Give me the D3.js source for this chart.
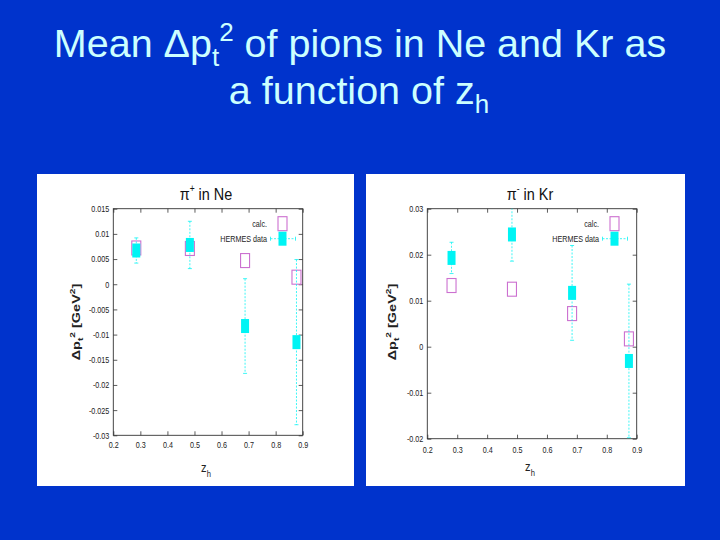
<!DOCTYPE html>
<html><head><meta charset="utf-8">
<script src="https://cdn.jsdelivr.net/npm/d3@7"></script>
<style>body{margin:0;background:#0033cc;} svg{display:block;}</style>
</head><body>
<svg id="c" width="720" height="540"></svg>
<script>
// ---- data ----
const xTicks = [0.2, 0.3, 0.4, 0.5, 0.6, 0.7, 0.8, 0.9];
const yTicksNe = [-0.03, -0.025, -0.02, -0.015, -0.01, -0.005, 0, 0.005, 0.01, 0.015];
const yTicksKr = [-0.02, -0.01, 0, 0.01, 0.02, 0.03];
const zNe = [0.285, 0.483, 0.687, 0.877];
const hermesNe = [0.0067, 0.0078, -0.0083, -0.0115];
const hermesNeErr = [0.0025, 0.0047, 0.0094, 0.0164];
const calcNe = [0.0072, 0.0071, 0.0047, 0.0014];
const zKr = [0.281, 0.483, 0.684, 0.874];
const hermesKr = [0.0193, 0.0244, 0.0117, -0.0031];
const hermesKrErr = [0.0034, 0.0058, 0.0103, 0.0167];
const calcKr = [0.0133, 0.0125, 0.0072, 0.0017];
const legendLabels = ["calc.", "HERMES data"];

const svg = d3.select("#c");
const CYAN = "#00f4f4", PINK = "#cc70d0", TITLE = "#ccffff";

svg.append("rect").attr("width", 720).attr("height", 540).attr("fill", "#0033cc");

// main title
const t1 = svg.append("text").attr("x", 360).attr("y", 57).attr("text-anchor", "middle")
  .attr("font-family", "Liberation Sans, Arial, sans-serif").attr("font-size", 39.5).attr("fill", TITLE);
t1.append("tspan").text("Mean Δp");
t1.append("tspan").attr("font-size", 26).attr("dy", 9).text("t");
t1.append("tspan").attr("font-size", 26).attr("dy", -25).text("2");
t1.append("tspan").attr("dy", 16).text(" of pions in Ne and Kr as");
const t2 = svg.append("text").attr("x", 359).attr("y", 104).attr("text-anchor", "middle")
  .attr("font-family", "Liberation Sans, Arial, sans-serif").attr("font-size", 39.5).attr("fill", TITLE);
t2.append("tspan").text("a function of z");
t2.append("tspan").attr("font-size", 26).attr("dy", 9).text("h");

function panel(cfg) {
  const g = svg.append("g");
  g.append("rect").attr("x", cfg.px).attr("y", 174).attr("width", cfg.pw).attr("height", 312).attr("fill", "#fff");
  const x = d3.scaleLinear().domain([0.2, 0.9]).range([cfg.x0, cfg.x1]);
  const y = d3.scaleLinear().domain(cfg.ydom).range([cfg.y1, cfg.y0]);
  const fmt = d => String(+d.toFixed(4));
  const font = "Liberation Sans, Arial, sans-serif";

  const styleAxis = (a) => {
    a.select(".domain").remove();
    a.selectAll(".tick line").attr("stroke", "#333").attr("stroke-width", 0.8);
    a.selectAll(".tick text").attr("font-family", font).attr("font-size", 9).attr("fill", "#222");
  };
  // left
  const ga = g.append("g").attr("transform", `translate(${cfg.x0},0)`)
    .call(d3.axisLeft(y).tickValues(cfg.yticks).tickFormat(fmt).tickSizeInner(-4).tickSizeOuter(0).tickPadding(5));
  styleAxis(ga);
  ga.selectAll(".tick text").attr("transform", "scale(0.8,1)");
  // right mirror
  const gr = g.append("g").attr("transform", `translate(${cfg.x1},0)`)
    .call(d3.axisRight(y).tickValues(cfg.yticks).tickFormat("").tickSizeInner(-4).tickSizeOuter(0));
  styleAxis(gr);
  // bottom
  const gb = g.append("g").attr("transform", `translate(0,${cfg.y1})`)
    .call(d3.axisBottom(x).tickValues(xTicks).tickFormat(d => d.toFixed(1)).tickSizeInner(-4).tickSizeOuter(0).tickPadding(cfg.xpad));
  styleAxis(gb);
  gb.selectAll(".tick text").attr("transform", "scale(0.8,1)");
  // top mirror
  const gt = g.append("g").attr("transform", `translate(0,${cfg.y0})`)
    .call(d3.axisTop(x).tickValues(xTicks).tickFormat("").tickSizeInner(-4).tickSizeOuter(0));
  styleAxis(gt);
  // border
  g.append("rect").attr("x", cfg.x0).attr("y", cfg.y0).attr("width", cfg.x1 - cfg.x0).attr("height", cfg.y1 - cfg.y0)
    .attr("fill", "none").attr("stroke", "#333").attr("stroke-width", 0.9);

  // clip
  const cid = "clip" + cfg.id;
  svg.append("clipPath").attr("id", cid).append("rect")
    .attr("x", cfg.x0).attr("y", cfg.y0).attr("width", cfg.x1 - cfg.x0).attr("height", cfg.y1 - cfg.y0);
  const pg = g.append("g").attr("clip-path", `url(#${cid})`);

  const data = cfg.z.map((z, i) => ({z, h: cfg.hermes[i], e: cfg.err[i], c: cfg.calc[i]}));
  const BW = 8, BH = 14;
  // calc open boxes (behind)
  pg.selectAll(".calc").data(data).join("rect")
    .attr("x", d => x(d.z) - BW / 2 - 0.5).attr("y", d => y(d.c) - BH / 2).attr("width", BW + 1).attr("height", BH)
    .attr("fill", "none").attr("stroke", PINK).attr("stroke-width", 1.1);
  // error bars
  pg.selectAll(".eb").data(data).join("line")
    .attr("x1", d => x(d.z)).attr("x2", d => x(d.z))
    .attr("y1", d => y(d.h + d.e)).attr("y2", d => y(d.h - d.e))
    .attr("stroke", CYAN).attr("stroke-width", 1).attr("stroke-dasharray", "2,1.5").attr("opacity", 0.75);
  [1, -1].forEach(s => {
    pg.selectAll(".cap" + s).data(data).join("line")
      .attr("x1", d => x(d.z) - 2).attr("x2", d => x(d.z) + 2)
      .attr("y1", d => y(d.h + s * d.e)).attr("y2", d => y(d.h + s * d.e))
      .attr("stroke", CYAN).attr("stroke-width", 1).attr("opacity", 0.75);
  });
  pg.selectAll(".hm").data(data).join("rect")
    .attr("x", d => x(d.z) - BW / 2).attr("y", d => y(d.h) - BH / 2).attr("width", BW).attr("height", BH)
    .attr("fill", CYAN);

  // legend
  const lg = g.append("g");
  lg.selectAll("text").data(legendLabels).join("text")
    .attr("transform", (d, i) => `translate(${cfg.lx},${cfg.ly + i * 15 + 3}) scale(0.8,1)`)
    .attr("text-anchor", "end").attr("font-family", font).attr("font-size", 9).attr("fill", "#222").text(d => d);
  lg.append("rect").attr("x", cfg.lb - BW / 2 - 0.5).attr("y", cfg.ly - BH / 2).attr("width", BW + 1).attr("height", BH)
    .attr("fill", "none").attr("stroke", PINK).attr("stroke-width", 1.1);
  const ly2 = cfg.ly + 15;
  lg.append("line").attr("x1", cfg.lb - 12).attr("x2", cfg.lb + 13).attr("y1", ly2).attr("y2", ly2)
    .attr("stroke", CYAN).attr("stroke-dasharray", "2,1.5").attr("opacity", 0.75);
  [cfg.lb - 12, cfg.lb + 13].forEach(xx => lg.append("line").attr("x1", xx).attr("x2", xx).attr("y1", ly2 - 2).attr("y2", ly2 + 2)
    .attr("stroke", CYAN).attr("opacity", 0.75));
  lg.append("rect").attr("x", cfg.lb - BW / 2).attr("y", ly2 - BH / 2).attr("width", BW).attr("height", BH).attr("fill", CYAN);

  // panel title
  const pt = g.append("text").attr("transform", `translate(${cfg.tx},200) scale(0.85,1)`).attr("text-anchor", "middle")
    .attr("font-family", font).attr("font-size", 17).attr("fill", "#111");
  pt.append("tspan").text("π");
  pt.append("tspan").attr("font-size", 10).attr("dy", -8).text(cfg.charge);
  pt.append("tspan").attr("dy", 8).text(" in " + cfg.nucleus);

  // y label
  const yl = g.append("text").attr("transform", `translate(${cfg.ylx},${cfg.yly}) rotate(-90) scale(1.45,1)`)
    .attr("text-anchor", "middle").attr("font-family", font).attr("font-size", 10).attr("font-weight", "bold").attr("fill", "#222");
  yl.append("tspan").text("Δp");
  yl.append("tspan").attr("font-size", 7).attr("dy", 3).text("t");
  yl.append("tspan").attr("font-size", 7).attr("dy", -8).text("2");
  yl.append("tspan").attr("dy", 5).text(" [GeV");
  yl.append("tspan").attr("font-size", 7).attr("dy", -5).text("2");
  yl.append("tspan").attr("dy", 5).text("]");

  // x label
  const xl = g.append("text").attr("transform", `translate(${cfg.xlx},${cfg.xly}) scale(0.85,1)`).attr("text-anchor", "middle")
    .attr("font-family", font).attr("font-size", 13).attr("fill", "#222");
  xl.append("tspan").text("z");
  xl.append("tspan").attr("font-size", 9).attr("dy", 5).text("h");
}

panel({id: "ne", px: 37, pw: 317, x0: 113.3, x1: 302.7, y0: 208.7, y1: 435.3, ydom: [-0.03, 0.015], yticks: yTicksNe,
  xpad: 6, z: zNe, hermes: hermesNe, err: hermesNeErr, calc: calcNe, lx: 267, lb: 282.5, ly: 223.7,
  tx: 206, charge: "+", nucleus: "Ne", ylx: 80, yly: 322, xlx: 206, xly: 472});
panel({id: "kr", px: 366, pw: 319, x0: 427.3, x1: 636.7, y0: 208.7, y1: 438.7, ydom: [-0.02, 0.03], yticks: yTicksKr,
  xpad: 8, z: zKr, hermes: hermesKr, err: hermesKrErr, calc: calcKr, lx: 599, lb: 614.5, ly: 223.7,
  tx: 530, charge: "-", nucleus: "Kr", ylx: 396, yly: 322, xlx: 530, xly: 471});
</script>
</body></html>
